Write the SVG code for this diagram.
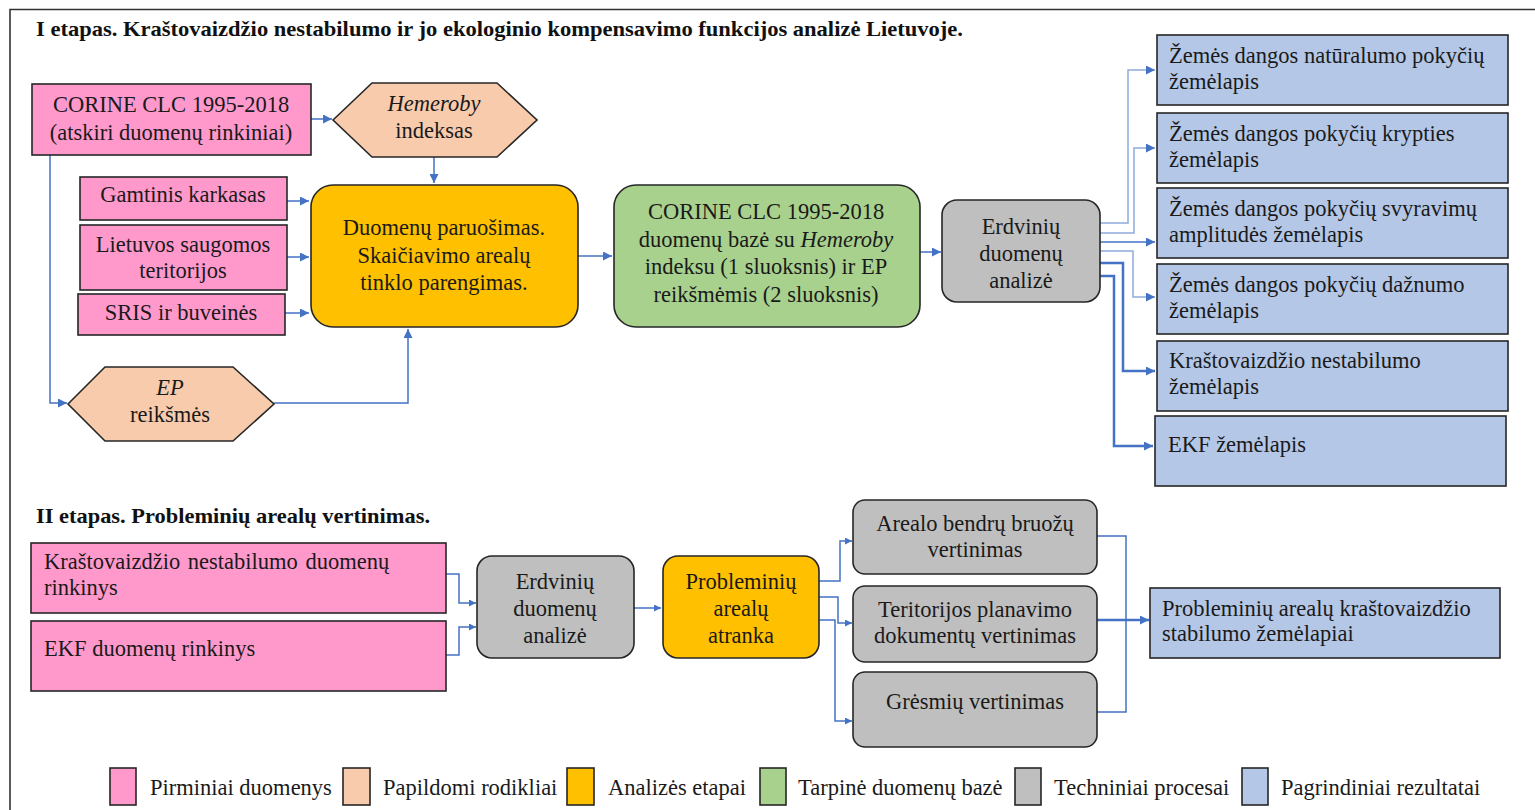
<svg xmlns="http://www.w3.org/2000/svg" width="1535" height="810" viewBox="0 0 1535 810">
<defs>
<style>
.t{font-family:"Liberation Serif","Times New Roman",serif;font-size:22.5px;fill:#1a1a1a}
.c{text-anchor:middle}
.h{font-family:"Liberation Serif","Times New Roman",serif;font-size:22px;font-weight:bold;fill:#111}
.b{stroke:#262626;stroke-width:1.6}
.pink{fill:#FF99CC}
.peach{fill:#F8CBAD}
.orange{fill:#FFC000}
.green{fill:#A9D18E}
.grey{fill:#BFBFBF}
.blue{fill:#B4C7E7}
.ln{fill:none;stroke:#4472C4;stroke-width:1.5}
.lt{fill:none;stroke:#8FAADC;stroke-width:1.5}
.lk{fill:none;stroke:#4472C4;stroke-width:2.5}
</style>
<marker id="a" viewBox="0 0 10 10" refX="10" refY="5" markerWidth="7" markerHeight="7" markerUnits="userSpaceOnUse" orient="auto"><path d="M0,0L10,5L0,10z" fill="#4472C4"/></marker>
<marker id="ab" viewBox="0 0 10 10" refX="10" refY="5" markerWidth="10" markerHeight="9" markerUnits="userSpaceOnUse" orient="auto"><path d="M0,0L10,5L0,10z" fill="#4472C4"/></marker>
</defs>
<rect x="0" y="0" width="1535" height="810" fill="#fff"/>
<path d="M10,820V9.5H1545" fill="none" stroke="#333" stroke-width="1.6"/>

<text class="h" x="36" y="36" textLength="927" lengthAdjust="spacingAndGlyphs">I etapas. Kraštovaizdžio nestabilumo ir jo ekologinio kompensavimo funkcijos analizė Lietuvoje.</text>
<text class="h" x="36" y="523" textLength="394" lengthAdjust="spacingAndGlyphs">II etapas. Probleminių arealų vertinimas.</text>

<g id="connectors">
<path class="ln" d="M311,119H332" marker-end="url(#ab)"/>
<path class="ln" d="M434,157V183" marker-end="url(#ab)"/>
<path class="ln" d="M287,201H309" marker-end="url(#ab)"/>
<path class="ln" d="M287,257H309" marker-end="url(#ab)"/>
<path class="ln" d="M285,313H309" marker-end="url(#ab)"/>
<path class="ln" d="M50,155V403H67" marker-end="url(#ab)"/>
<path class="ln" d="M274,403H408V329" marker-end="url(#ab)"/>
<path class="ln" d="M578,256H612" marker-end="url(#ab)"/>
<path class="ln" d="M920,252H941" marker-end="url(#ab)"/>
<path class="lt" d="M1100,223H1128V70H1155" marker-end="url(#ab)"/>
<path class="lt" d="M1100,233H1134V148H1155" marker-end="url(#ab)"/>
<path class="ln" d="M1100,242H1155" marker-end="url(#ab)"/>
<path class="lt" d="M1100,251H1133V297H1155" marker-end="url(#ab)"/>
<path class="lk" d="M1100,263H1123V371H1155" marker-end="url(#ab)"/>
<path class="lk" d="M1100,276H1114V446H1153" marker-end="url(#ab)"/>
<path class="ln" d="M446,574H459V603H476" marker-end="url(#a)"/>
<path class="ln" d="M446,655H459V627H476" marker-end="url(#a)"/>
<path class="ln" d="M634,608H661" marker-end="url(#a)"/>
<path class="ln" d="M819,581H840V541H852" marker-end="url(#a)"/>
<path class="ln" d="M819,597H838V623H852" marker-end="url(#a)"/>
<path class="ln" d="M819,620H835V721H852" marker-end="url(#a)"/>
<path class="ln" d="M1097,536H1126V712H1097"/>
<path class="lk" d="M1097,620H1149" marker-end="url(#ab)"/>
</g>

<g id="corine-src"><rect class="b pink" x="32" y="84" width="279" height="71"/>
<text class="t c" x="171" y="112">CORINE CLC 1995-2018</text><text class="t c" x="171" y="140">(atskiri duomenų rinkiniai)</text></g>

<g id="hemeroby"><polygon class="b peach" points="333,120 372,83 497,83 537,120 497,157 372,157"/>
<text class="t c" x="434" y="111" font-style="italic">Hemeroby</text><text class="t c" x="434" y="138">indeksas</text></g>

<g id="gamtinis"><rect class="b pink" x="80" y="177" width="207" height="43"/>
<text class="t c" x="183" y="202">Gamtinis karkasas</text></g>

<g id="saugomos"><rect class="b pink" x="80" y="225" width="207" height="65"/>
<text class="t c" x="183" y="252">Lietuvos saugomos</text><text class="t c" x="183" y="278">teritorijos</text></g>

<g id="sris"><rect class="b pink" x="78" y="294" width="207" height="41"/>
<text class="t c" x="181" y="320">SRIS ir buveinės</text></g>

<g id="paruosimas"><rect class="b orange" x="311" y="185" width="267" height="142" rx="22"/>
<text class="t c" x="444" y="235">Duomenų paruošimas.</text><text class="t c" x="444" y="263">Skaičiavimo arealų</text><text class="t c" x="444" y="290">tinklo parengimas.</text></g>

<g id="ep"><polygon class="b peach" points="68,404 105,367 233,367 274,404 233,441 105,441"/>
<text class="t c" x="170" y="395" font-style="italic">EP</text><text class="t c" x="170" y="422">reikšmės</text></g>

<g id="db"><rect class="b green" x="614" y="185" width="306" height="142" rx="22"/>
<text class="t c" x="766" y="219">CORINE CLC 1995-2018</text>
<text class="t c" x="766" y="247">duomenų bazė su <tspan font-style="italic">Hemeroby</tspan></text>
<text class="t c" x="766" y="274">indeksu (1 sluoksnis) ir EP</text>
<text class="t c" x="766" y="302">reikšmėmis (2 sluoksnis)</text></g>

<g id="erdv1"><rect class="b grey" x="942" y="200" width="158" height="102" rx="15"/>
<text class="t c" x="1021" y="234">Erdvinių</text><text class="t c" x="1021" y="261">duomenų</text><text class="t c" x="1021" y="288">analizė</text></g>

<g id="r1"><rect class="b blue" x="1157" y="35" width="351" height="70"/>
<text class="t" x="1169" y="63">Žemės dangos natūralumo pokyčių</text><text class="t" x="1169" y="89">žemėlapis</text></g>
<g id="r2"><rect class="b blue" x="1157" y="113" width="351" height="70"/>
<text class="t" x="1169" y="141">Žemės dangos pokyčių krypties</text><text class="t" x="1169" y="167">žemėlapis</text></g>
<g id="r3"><rect class="b blue" x="1157" y="188" width="351" height="70"/>
<text class="t" x="1169" y="216">Žemės dangos pokyčių svyravimų</text><text class="t" x="1169" y="242">amplitudės žemėlapis</text></g>
<g id="r4"><rect class="b blue" x="1157" y="264" width="351" height="70"/>
<text class="t" x="1169" y="292">Žemės dangos pokyčių dažnumo</text><text class="t" x="1169" y="318">žemėlapis</text></g>
<g id="r5"><rect class="b blue" x="1157" y="341" width="351" height="70"/>
<text class="t" x="1169" y="368">Kraštovaizdžio nestabilumo</text><text class="t" x="1169" y="394">žemėlapis</text></g>
<g id="r6"><rect class="b blue" x="1155" y="416" width="351" height="70"/>
<text class="t" x="1168" y="452">EKF žemėlapis</text></g>

<g id="kn"><rect class="b pink" x="31" y="543" width="415" height="70"/>
<text class="t" x="44" y="569" word-spacing="2">Kraštovaizdžio nestabilumo duomenų</text><text class="t" x="44" y="595">rinkinys</text></g>
<g id="ekf"><rect class="b pink" x="31" y="621" width="415" height="70"/>
<text class="t" x="44" y="656">EKF duomenų rinkinys</text></g>

<g id="erdv2"><rect class="b grey" x="477" y="556" width="157" height="102" rx="15"/>
<text class="t c" x="555" y="589">Erdvinių</text><text class="t c" x="555" y="616">duomenų</text><text class="t c" x="555" y="643">analizė</text></g>

<g id="atranka"><rect class="b orange" x="663" y="556" width="156" height="102" rx="15"/>
<text class="t c" x="741" y="589">Probleminių</text><text class="t c" x="741" y="616">arealų</text><text class="t c" x="741" y="643">atranka</text></g>

<g id="arealo"><rect class="b grey" x="853" y="500" width="244" height="74" rx="12"/>
<text class="t c" x="975" y="531">Arealo bendrų bruožų</text><text class="t c" x="975" y="557">vertinimas</text></g>
<g id="teritorijos"><rect class="b grey" x="853" y="586" width="244" height="76" rx="12"/>
<text class="t c" x="975" y="617">Teritorijos planavimo</text><text class="t c" x="975" y="643">dokumentų vertinimas</text></g>
<g id="gresmiu"><rect class="b grey" x="853" y="672" width="244" height="75" rx="12"/>
<text class="t c" x="975" y="709">Grėsmių vertinimas</text></g>

<g id="rezultatas"><rect class="b blue" x="1150" y="588" width="350" height="70"/>
<text class="t" x="1162" y="616">Probleminių arealų kraštovaizdžio</text><text class="t" x="1162" y="641">stabilumo žemėlapiai</text></g>

<g id="legend">
<rect class="b pink" x="110" y="768" width="26" height="37"/><text class="t" x="150" y="795">Pirminiai duomenys</text>
<rect class="b peach" x="343" y="768" width="27" height="37"/><text class="t" x="383" y="795">Papildomi rodikliai</text>
<rect class="b orange" x="567" y="768" width="27" height="37"/><text class="t" x="608" y="795">Analizės etapai</text>
<rect class="b green" x="760" y="768" width="26" height="37"/><text class="t" x="798" y="795">Tarpinė duomenų bazė</text>
<rect class="b grey" x="1015" y="768" width="26" height="37"/><text class="t" x="1054" y="795">Techniniai procesai</text>
<rect class="b blue" x="1242" y="768" width="26" height="37"/><text class="t" x="1281" y="795">Pagrindiniai rezultatai</text>
</g>
</svg>
